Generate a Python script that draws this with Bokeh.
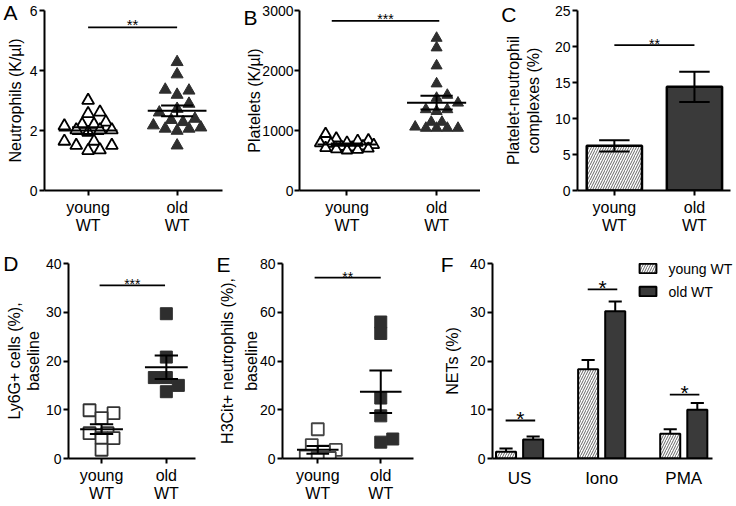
import math
from bokeh.plotting import figure
from bokeh.layouts import column, row
from bokeh.models import (ColumnDataSource, FixedTicker, Legend, LegendItem, LinearAxis,
                          Range1d)
from bokeh.embed import file_html
from bokeh.resources import INLINE
from bokeh.core.properties import value

# ---------------- data ----------------
group_labels = ["young\nWT", "old\nWT"]

neut_young = [3.0, 2.56, 2.61, 2.2, 2.2, 2.15, 2.28, 2.02, 2.02, 2.02, 1.94, 1.5, 1.5, 1.64, 1.64, 1.33, 1.35]
neut_old = [4.28, 3.87, 3.36, 3.33, 3.19, 2.89, 2.72, 2.28, 2.39, 2.35, 2.06, 2.1, 2.06, 1.99, 2.17, 1.5, 2.6]

plt_young = [945, 870, 840, 830, 800, 790, 780, 760, 740, 730, 720, 710, 700, 690, 680, 670]
plt_old = [2540, 2380, 2080, 1780, 1590, 1540, 1460, 1350, 1320, 1350, 1140, 1140, 1040, 1040, 1040, 1040, 1060]

pnc_mean = [6.2, 14.4]
pnc_sem = [0.78, 2.1]

ly6g_young = [9.3, 9.9, 8.3, 5.2, 5.2, 4.2, 4.2, 1.8]
ly6g_old = [29.7, 20.8, 16.6, 16.6, 15.0, 13.7]

h3cit_young = [12.0, 5.5, 3.5, 2.8, 0.8, 0.2, 0.2]
h3cit_old = [56.0, 51.3, 24.8, 17.5, 6.7, 8.0]

net_cats = ["US", "Iono", "PMA"]
net_young = [1.4, 18.3, 5.1]
net_young_sem = [0.65, 1.9, 0.9]
net_old = [3.9, 30.2, 10.0]
net_old_sem = [0.6, 2.0, 1.4]
net_legend = ["young WT", "old WT"]

# significance annotations: (x start, x end, y, label)
sig_a = (1.0, 2.0, 5.44, "**")
sig_b = (0.83, 2.03, 2827, "***")
sig_c = (1.0, 2.0, 20.2, "**")
sig_d = (0.97, 1.98, 35.5, "***")
sig_e = (0.95, 2.0, 74.2, "**")
sig_f_y = [7.8, 34.7, 13.1]
sig_f_lab = ["*", "*", "*"]

# ---------------- helpers ----------------
FONT = "Liberation Sans"
DARK = "#2e2e2e"
BAR_DARK = "#3a3a3a"


def make_fig(box, frame, xr, yr):
    x0, y0, x1, y1 = box
    l, t, r, b = frame
    w, h = x1 - x0, y1 - y0
    bl, br, bt, bb = l - x0, x1 - r, t - y0, y1 - b
    p = figure(width=w, height=h, x_range=Range1d(*xr), y_range=Range1d(*yr),
               output_backend="svg", toolbar_location=None,
               min_border_left=bl, min_border_right=br,
               min_border_top=bt, min_border_bottom=bb)
    p.outline_line_color = None
    p.grid.visible = False
    ppx = (r - l) / (xr[1] - xr[0])
    ppy = (b - t) / (yr[1] - yr[0])
    return p, ppx, ppy


def style(p, yticks, xticks, xlabels, ylabel, label_standoff=6, cat_font="16px",
          tick_font="14px", xtick_out=5, xlabel_standoff=3, line_height=1.2, ylab_standoff=2):
    xa = p.xaxis[0]
    ya = p.yaxis[0]
    for ax in (xa, ya):
        ax.axis_line_width = 2
        ax.axis_line_color = "black"
        ax.major_tick_line_width = 2
        ax.major_tick_line_color = "black"
        ax.major_tick_in = 0
        ax.minor_tick_line_color = None
        ax.major_label_text_font = FONT
        ax.major_label_text_color = "black"
        ax.axis_label_text_font = FONT
        ax.axis_label_text_font_style = "normal"
        ax.axis_label_text_color = "black"
    ya.major_tick_out = 5
    ya.ticker = FixedTicker(ticks=yticks)
    ya.major_label_text_font_size = tick_font
    ya.major_label_standoff = ylab_standoff
    ya.axis_label = ylabel
    ya.axis_label_text_font_size = "16px"
    ya.axis_label_standoff = label_standoff
    ya.axis_label_text_line_height = line_height
    xa.major_tick_out = xtick_out
    if xtick_out == 0:
        xa.major_tick_line_color = None
    xa.ticker = FixedTicker(ticks=xticks)
    xa.major_label_overrides = {t: lab for t, lab in zip(xticks, xlabels)}
    xa.major_label_text_font_size = cat_font
    xa.major_label_text_line_height = 1.1
    xa.major_label_standoff = xlabel_standoff


def plain_axis(p, side, ticks, labels, font_size, standoff):
    ax = LinearAxis(ticker=FixedTicker(ticks=ticks),
                    major_label_overrides={t: s for t, s in zip(ticks, labels)})
    ax.axis_line_color = None
    ax.major_tick_line_color = None
    ax.minor_tick_line_color = None
    ax.major_tick_in = 0
    ax.major_tick_out = 0
    ax.major_label_standoff = standoff
    ax.major_label_text_font = FONT
    ax.major_label_text_font_size = font_size
    ax.major_label_text_color = "black"
    p.add_layout(ax, side)


def letter(p, txt, frame, yr, ppy, ref_center_y, width):
    # panel letter, drawn as the single tick label of a bare outer axis
    t = frame[1]
    yl = yr[1] - max(ref_center_y - t, 0.5) / ppy
    plain_axis(p, "left", [yl], [txt], "21px", -width)


def swarm(vals, ppx, ppy, size, maxw):
    order = sorted(range(len(vals)), key=lambda i: vals[i])
    placed = []
    offs = [0.0] * len(vals)
    step = size * 0.5
    thr = size * 0.85
    cands = [0.0]
    k = 1
    while k * step <= maxw:
        cands += [k * step, -k * step]
        k += 1
    for i in order:
        y = vals[i] * ppy
        best = None
        bestd = -1
        bestc = 0.0
        for c in cands:
            d = min((math.hypot(c - px, y - py) for px, py in placed), default=1e9)
            if d >= thr:
                best = c
                break
            if d > bestd:
                bestd = d
                bestc = c
        if best is None:
            best = bestc
        placed.append((best, y))
        offs[i] = best / ppx
    return offs


def dots(p, ppx, ppy, groups, marker, size, maxw, open_color):
    for gi, vals in enumerate(groups):
        xc = gi + 1
        offs = swarm(vals, ppx, ppy, size, maxw)
        src = ColumnDataSource(dict(x=[xc + o for o in offs], y=vals))
        if gi == 0:
            p.scatter("x", "y", source=src, marker=marker, size=size,
                      fill_color="white", line_color=open_color, line_width=1.8)
        else:
            p.scatter("x", "y", source=src, marker=marker, size=size,
                      fill_color=DARK, line_color=DARK, line_width=1)
        n = len(vals)
        m = sum(vals) / n
        sd = math.sqrt(sum((v - m) ** 2 for v in vals) / (n - 1))
        se = sd / math.sqrt(n)
        p.segment(x0=[xc - 0.33, xc - 0.18, xc - 0.18, xc],
                  y0=[m, m + se, m - se, m - se],
                  x1=[xc + 0.33, xc + 0.18, xc + 0.18, xc],
                  y1=[m, m + se, m - se, m + se],
                  line_width=2, line_color="black")


def sig(p, s, font="15px", yoff=-3):
    x0, x1, y, lab = s
    p.segment(x0=[x0], y0=[y], x1=[x1], y1=[y], line_width=1.8, line_color="black")
    p.text(x=[(x0 + x1) / 2], y=[y], text=[lab], text_font=value(FONT), text_font_size=font,
           text_align="center", text_baseline="alphabetic", y_offset=yoff, text_color="black")


# ---------------- Panel A ----------------
boxA, frA, xrA, yrA = (0, 0, 240, 250), (42, 10, 222, 190), (0.51, 2.51), (0, 6)
pA, pxA, pyA = make_fig(boxA, frA, xrA, yrA)
style(pA, [0, 2, 4, 6], [1, 2], group_labels, "Neutrophils (K/µl)", label_standoff=3)
dots(pA, pxA, pyA, [neut_young, neut_old], "triangle", 12, 28, "black")
sig(pA, sig_a)
letter(pA, "A", frA, yrA, pyA, 12, 14)

# ---------------- Panel B ----------------
boxB, frB, xrB, yrB = (240, 0, 480, 250), (294, 5, 480, 190), (0.47, 2.49), (0, 3000)
pB, pxB, pyB = make_fig(boxB, frB, xrB, yrB)
style(pB, [0, 1000, 2000, 3000], [1, 2], group_labels, "Platelets (K/µl)",
      label_standoff=-4, ylab_standoff=1)
dots(pB, pxB, pyB, [plt_young, plt_old], "triangle", 11, 30, "black")
sig(pB, sig_b, font="14px", yoff=-2)
letter(pB, "B", frB, yrB, pyB, 12.5, 14)

# ---------------- Panel C ----------------
boxC, frC, xrC, yrC = (480, 0, 736, 250), (577, 7, 730, 190), (0.54, 2.45), (0, 25)
pC, pxC, pyC = make_fig(boxC, frC, xrC, yrC)
style(pC, [0, 5, 10, 15, 20, 25], [1, 2], group_labels,
      "Platelet-neutrophil\ncomplexes (%)", label_standoff=10)
srcC = ColumnDataSource(dict(x=[1, 2], top=pnc_mean, fill=["white", BAR_DARK],
                             hatch=["/", " "]))
pC.vbar(x="x", top="top", width=0.69, source=srcC, fill_color="fill",
        hatch_pattern="hatch", hatch_color="#666666", hatch_scale=5, hatch_weight=1,
        line_color="black", line_width=2.5)
cx = [1, 2]
lo = [m - s for m, s in zip(pnc_mean, pnc_sem)]
hi = [m + s for m, s in zip(pnc_mean, pnc_sem)]
pC.segment(x0=cx, y0=lo, x1=cx, y1=hi, line_width=2, line_color="black")
pC.segment(x0=[x - 0.19 for x in cx], y0=hi, x1=[x + 0.19 for x in cx], y1=hi,
           line_width=2, line_color="black")
pC.segment(x0=[x - 0.19 for x in cx], y0=lo, x1=[x + 0.19 for x in cx], y1=lo,
           line_width=2, line_color="black")
sig(pC, sig_c, font="14px", yoff=-1)
letter(pC, "C", frC, yrC, pyC, 11.5, 15)

# ---------------- Panel D ----------------
boxD, frD, xrD, yrD = (0, 250, 212, 506), (68, 262, 195, 459), (0.49, 2.45), (0, 40)
pD, pxD, pyD = make_fig(boxD, frD, xrD, yrD)
style(pD, [0, 10, 20, 30, 40], [1, 2], group_labels, "Ly6G+ cells (%),\nbaseline",
      label_standoff=1, line_height=1.1)
dots(pD, pxD, pyD, [ly6g_young, ly6g_old], "square", 12, 22, "#333333")
sig(pD, sig_d, font="14px", yoff=-1)
letter(pD, "D", frD, yrD, pyD, 262.5, 15)

# ---------------- Panel E ----------------
boxE, frE, xrE, yrE = (212, 250, 436, 506), (282, 263, 413, 459), (0.44, 2.52), (0, 80)
pE, pxE, pyE = make_fig(boxE, frE, xrE, yrE)
style(pE, [0, 20, 40, 60, 80], [1, 2], group_labels,
      "H3Cit+ neutrophils (%),\nbaseline", label_standoff=-3, line_height=1.4)
dots(pE, pxE, pyE, [h3cit_young, h3cit_old], "square", 12, 22, "#444444")
sig(pE, sig_e, font="14px", yoff=-1)
letter(pE, "E", frE, yrE, pyE, 264.5, 14)

# ---------------- Panel F ----------------
boxF, frF, xrF, yrF = (436, 250, 736, 506), (492, 262, 712, 458), (0.67, 3.35), (0, 40)
pF, pxF, pyF = make_fig(boxF, frF, xrF, yrF)
style(pF, [0, 10, 20, 30, 40], [1, 2, 3], net_cats, "NETs (%)", label_standoff=6,
      cat_font="17px", xtick_out=0, xlabel_standoff=10)
fx = [1, 2, 3]
dx = 0.165
bw = 0.244
xy = [x - dx for x in fx]
xo = [x + dx for x in fx]
r_y = pF.vbar(x=xy, top=net_young, width=bw, fill_color="white", hatch_pattern="/",
              hatch_color="#666666", hatch_scale=5, hatch_weight=1,
              line_color="black", line_width=2)
r_o = pF.vbar(x=xo, top=net_old, width=bw, fill_color=BAR_DARK,
              line_color="black", line_width=2)
for xs, tops, sems in ((xy, net_young, net_young_sem), (xo, net_old, net_old_sem)):
    hi = [t + s for t, s in zip(tops, sems)]
    pF.segment(x0=xs, y0=tops, x1=xs, y1=hi, line_width=2, line_color="black")
    pF.segment(x0=[x - 0.08 for x in xs], y0=hi, x1=[x + 0.08 for x in xs], y1=hi,
               line_width=2, line_color="black")
for x, y, lab in zip(fx, sig_f_y, sig_f_lab):
    sig(pF, (x - 0.17, x + 0.19, y, lab), font="21px", yoff=-2)
letter(pF, "F", frF, yrF, pyF, 263.5, 13)

# legend: swatches inside the frame, texts as labels of a bare right axis
fh_F = frF[3] - frF[1]
legend = Legend(items=[LegendItem(label=" ", renderers=[r_y]),
                       LegendItem(label=" ", renderers=[r_o])],
                location=(637 - frF[0], fh_F - 35),
                orientation="vertical", padding=0, margin=0, spacing=11,
                glyph_width=21, glyph_height=12, label_height=1, label_width=1,
                label_standoff=0, label_text_font_size="1px",
                border_line_color=None, background_fill_alpha=0)
pF.add_layout(legend)
leg_ys = [yrF[1] - 6 / pyF, yrF[1] - 29 / pyF]
plain_axis(pF, "right", leg_ys, net_legend, "14px", -(frF[2] - 668))

layout = column(row(pA, pB, pC), row(pD, pE, pF))
open("out.html", "w").write(file_html(layout, INLINE))
